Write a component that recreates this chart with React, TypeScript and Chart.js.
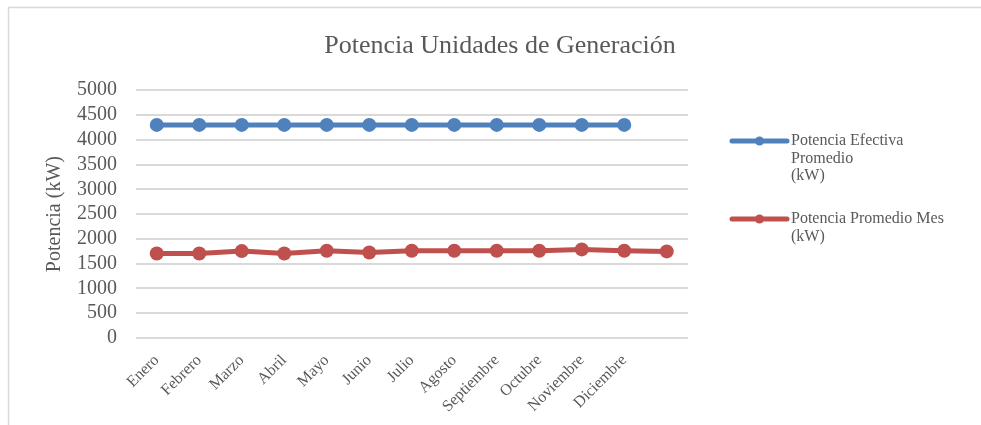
import React, { useEffect, useRef } from "react";
import { Chart, registerables } from "chart.js";

Chart.register(...registerables);

const chartTitle = "Potencia Unidades de Generación";
const yAxisTitle = "Potencia (kW)";
const months = [
  "Enero", "Febrero", "Marzo", "Abril", "Mayo", "Junio", "Julio",
  "Agosto", "Septiembre", "Octubre", "Noviembre", "Diciembre", "",
];
const potenciaEfectiva = [4300, 4300, 4300, 4300, 4300, 4300, 4300, 4300, 4300, 4300, 4300, 4300, null];
const potenciaPromedioMes = [1705, 1705, 1753, 1705, 1760, 1726, 1760, 1760, 1760, 1760, 1788, 1760, 1747];
const seriesNames = ["Potencia Efectiva Promedio (kW)", "Potencia Promedio Mes (kW)"];
const legendLines = [["Potencia Efectiva", "Promedio", "(kW)"], ["Potencia Promedio Mes", "(kW)"]];
const yTicks = { min: 0, max: 5000, step: 500 };

const FONT = "'Liberation Serif', 'Times New Roman', serif";
const TEXT = "#595959";
const BLUE = "#4F81BD";
const RED = "#C0504D";
const GRID = "#D9D9D9";

const framePlugin = {
  id: "frame",
  beforeDraw(chart: any) {
    const ctx = chart.ctx;
    ctx.save();
    ctx.fillStyle = "#ffffff";
    ctx.fillRect(0, 0, chart.width, chart.height);
    ctx.strokeStyle = GRID;
    ctx.lineWidth = 1.5;
    ctx.strokeRect(8.5, 7.5, chart.width + 20, chart.height + 20);
    ctx.restore();
  },
};

const legendPlugin = {
  id: "sideLegend",
  afterDraw(chart: any) {
    const ctx = chart.ctx;
    const x0 = 732;
    const starts = [141, 219];
    const lineGap = 17.5;
    ctx.save();
    chart.data.datasets.forEach((ds: any, i: number) => {
      const y = starts[i];
      ctx.strokeStyle = ds.borderColor;
      ctx.lineWidth = 5;
      ctx.lineCap = "round";
      ctx.beginPath();
      ctx.moveTo(x0, y);
      ctx.lineTo(x0 + 55, y);
      ctx.stroke();
      ctx.fillStyle = ds.borderColor;
      ctx.beginPath();
      ctx.arc(x0 + 27.5, y, 4.5, 0, Math.PI * 2);
      ctx.fill();
      ctx.fillStyle = TEXT;
      ctx.font = `16px ${FONT}`;
      ctx.textAlign = "left";
      ctx.textBaseline = "middle";
      legendLines[i].forEach((t, j) => ctx.fillText(t, x0 + 59, y + j * lineGap));
    });
    ctx.restore();
  },
};

export default function App() {
  const ref = useRef<HTMLCanvasElement>(null);
  useEffect(() => {
    if (!ref.current) return;
    const chart = new Chart(ref.current, {
      type: "line",
      data: {
        labels: months,
        datasets: [
          {
            label: seriesNames[0],
            data: potenciaEfectiva,
            borderColor: BLUE,
            backgroundColor: BLUE,
            pointBackgroundColor: BLUE,
            pointBorderColor: BLUE,
            borderWidth: 5,
            pointRadius: 7,
            pointBorderWidth: 0,
            spanGaps: false,
            yAxisID: "y",
          },
          {
            label: seriesNames[1],
            data: potenciaPromedioMes,
            borderColor: RED,
            backgroundColor: RED,
            pointBackgroundColor: RED,
            pointBorderColor: RED,
            borderWidth: 5,
            pointRadius: 7,
            pointBorderWidth: 0,
            yAxisID: "y",
          },
        ],
      },
      options: {
        responsive: false,
        animation: false,
        layout: { padding: { left: 19, right: 0, top: 0, bottom: 0 } },
        plugins: {
          legend: { display: false },
          tooltip: { enabled: false },
          title: {
            display: true,
            text: chartTitle,
            color: TEXT,
            font: { family: FONT, size: 26, weight: "normal" },
            padding: { top: 31, bottom: 28 },
          },
        },
        scales: {
          x: {
            offset: true,
            grid: { display: false },
            border: { display: false },
            ticks: {
              autoSkip: false,
              maxRotation: 45,
              minRotation: 45,
              color: TEXT,
              padding: 5,
              font: { family: FONT, size: 16 },
            },
            afterFit(scale: any) {
              scale.height = 87;
            },
          },
          y: {
            min: yTicks.min,
            max: yTicks.max,
            grid: { color: GRID, lineWidth: 2, drawTicks: false },
            border: { display: false },
            ticks: {
              stepSize: yTicks.step,
              autoSkip: false,
              color: TEXT,
              padding: 18.5,
              font: { family: FONT, size: 20 },
              callback: (v: any) => String(v),
            },
            title: {
              display: true,
              text: yAxisTitle,
              color: TEXT,
              font: { family: FONT, size: 20 },
              padding: { top: 24, bottom: 0 },
            },
            afterFit(scale: any) {
              scale.width = 135.5 - 19;
            },
          },
          legendSpace: {
            type: "linear",
            position: "right",
            display: true,
            grid: { display: false },
            border: { display: false },
            ticks: { display: false },
            afterFit(scale: any) {
              scale.width = 293;
            },
          },
        },
      },
      plugins: [framePlugin, legendPlugin],
    });
    return () => chart.destroy();
  }, []);
  return (
    <div style={{ position: "absolute", left: 0, top: 0, width: 981, height: 425 }}>
      <canvas ref={ref} width={981} height={425} style={{ display: "block" }} />
    </div>
  );
}
